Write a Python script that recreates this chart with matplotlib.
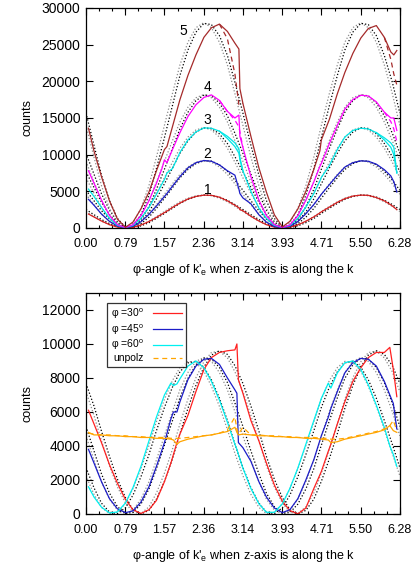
import numpy as np
import matplotlib
matplotlib.use("Agg")
import matplotlib.pyplot as plt
from matplotlib.ticker import FixedLocator, MultipleLocator

plt.rcParams['font.family'] = ['Liberation Sans', 'DejaVu Sans']
plt.rcParams['mathtext.fontset'] = 'custom'
plt.rcParams['mathtext.rm'] = 'Liberation Sans'
plt.rcParams['mathtext.it'] = 'Liberation Sans:italic'

# ---------------- data ----------------
tick_pos = [0.0, 0.785, 1.571, 2.356, 3.142, 3.927, 4.712, 5.498, 6.283]
tick_lab = ["0.00", "0.79", "1.57", "2.36", "3.14", "3.93", "4.71", "5.50", "6.28"]

# theory grid
PHI = [0.00, 0.16, 0.31, 0.47, 0.63, 0.79, 0.94, 1.10, 1.26, 1.41, 1.57, 1.73, 1.88, 2.04,
       2.20, 2.36, 2.51, 2.67, 2.83, 2.98, 3.14, 3.30, 3.46, 3.61, 3.77, 3.93, 4.08, 4.24,
       4.40, 4.56, 4.71, 4.87, 5.03, 5.18, 5.34, 5.50, 5.65, 5.81, 5.97, 6.13, 6.28]

# top panel: theory (gray dotted)
th1_g = [2250, 1555, 927, 430, 110, 0, 110, 430, 927, 1555, 2250, 2945, 3573, 4070, 4390, 4500, 4390, 4070, 3573, 2945,
         2250, 1555, 927, 430, 110, 0, 110, 430, 927, 1555, 2250, 2945, 3573, 4070, 4390, 4500, 4390, 4070, 3573, 2945, 2250]
th2_g = [4600, 3179, 1896, 879, 225, 0, 225, 879, 1896, 3179, 4600, 6021, 7304, 8321, 8975, 9200, 8975, 8321, 7304, 6021,
         4600, 3179, 1896, 879, 225, 0, 225, 879, 1896, 3179, 4600, 6021, 7304, 8321, 8975, 9200, 8975, 8321, 7304, 6021, 4600]
th3_g = [6850, 4733, 2824, 1308, 336, 0, 336, 1308, 2824, 4733, 6850, 8967, 10876, 12392, 13364, 13700, 13364, 12392, 10876, 8967,
         6850, 4733, 2824, 1308, 336, 0, 336, 1308, 2824, 4733, 6850, 8967, 10876, 12392, 13364, 13700, 13364, 12392, 10876, 8967, 6850]
th4_g = [9100, 6288, 3751, 1738, 446, 0, 446, 1738, 3751, 6288, 9100, 11912, 14449, 16462, 17754, 18200, 17754, 16462, 14449, 11912,
         9100, 6288, 3751, 1738, 446, 0, 446, 1738, 3751, 6288, 9100, 11912, 14449, 16462, 17754, 18200, 17754, 16462, 14449, 11912, 9100]
th5_g = [14000, 9674, 5771, 2674, 686, 0, 686, 2674, 5771, 9674, 14000, 18326, 22229, 25326, 27314, 28000, 27314, 25326, 22229, 18326,
         14000, 9674, 5771, 2674, 686, 0, 686, 2674, 5771, 9674, 14000, 18326, 22229, 25326, 27314, 28000, 27314, 25326, 22229, 18326, 14000]
# top panel: theory (black dotted)
th1_k = [2519, 1814, 1155, 601, 209, 16, 42, 285, 719, 1305, 1980, 2682, 3344, 3900, 4291, 4484, 4458, 4215, 3781, 3195,
         2520, 1814, 1155, 601, 209, 16, 42, 285, 719, 1305, 1980, 2682, 3344, 3900, 4291, 4484, 4458, 4215, 3781, 3195, 2520]
th2_k = [5149, 3709, 2361, 1228, 427, 33, 86, 582, 1469, 2669, 4049, 5482, 6836, 7974, 8773, 9167, 9114, 8618, 7731, 6531,
         5151, 3709, 2361, 1228, 427, 33, 86, 582, 1469, 2669, 4049, 5482, 6836, 7974, 8773, 9167, 9114, 8618, 7731, 6531, 5151]
th3_k = [7668, 5522, 3515, 1829, 636, 49, 129, 867, 2188, 3974, 6029, 8164, 10179, 11874, 13064, 13651, 13571, 12833, 11512, 9726,
         7671, 5522, 3515, 1829, 636, 49, 129, 867, 2188, 3974, 6029, 8164, 10179, 11874, 13064, 13651, 13571, 12833, 11512, 9726, 7671]
th4_k = [10187, 7336, 4670, 2430, 844, 66, 171, 1152, 2907, 5280, 8010, 10845, 13523, 15774, 17356, 18134, 18029, 17048, 15293, 12920,
         10190, 7336, 4670, 2430, 844, 66, 171, 1152, 2907, 5280, 8010, 10845, 13523, 15774, 17356, 18134, 18029, 17048, 15293, 12920, 10190]
th5_k = [15672, 11287, 7185, 3738, 1299, 101, 263, 1772, 4472, 8123, 12323, 16685, 20804, 24268, 26701, 27899, 27737, 26228, 23528, 19877,
         15677, 11287, 7185, 3738, 1299, 101, 263, 1772, 4472, 8123, 12323, 16685, 20804, 24268, 26701, 27899, 27737, 26228, 23528, 19877, 15677]

# top panel: measured
TOP_X = [0.05, 0.16, 0.31, 0.47, 0.63, 0.79, 0.94, 1.10, 1.26, 1.41, 1.52, 1.57, 1.62, 1.73, 1.88, 2.04,
         2.20, 2.36, 2.51, 2.67, 2.83, 2.98, 3.06, 3.08, 3.14, 3.30, 3.46, 3.61, 3.77, 3.93, 4.08, 4.24,
         4.40, 4.56, 4.68, 4.71, 4.87, 5.03, 5.18, 5.34, 5.50, 5.65, 5.81, 5.97, 6.10, 6.16, 6.22]
n1 = [1900, 1500, 950, 450, 120, 20, 100, 400, 880, 1450, 1900, 2100, 2300, 2800, 3400, 3950,
      4300, 4480, 4450, 4200, 3700, 3100, 2750, 2500, 2350, 1600, 950, 450, 120, 20, 110, 420,
      920, 1520, 2050, 2200, 2850, 3500, 4000, 4350, 4480, 4450, 4150, 3700, 3150, 2850, 2500]
n2 = [3900, 3100, 1900, 900, 250, 30, 230, 850, 1850, 3000, 3900, 4300, 4700, 5700, 7000, 8200,
      8900, 9200, 9100, 8600, 7800, 7200, 5300, 4700, 4100, 3300, 1800, 800, 200, 30, 230, 880,
      1950, 3200, 4300, 4600, 5900, 7200, 8300, 8900, 9150, 9100, 8700, 7950, 7100, 6300, 4900]
n3 = [5300, 4300, 2800, 1300, 350, 40, 350, 1300, 2800, 4600, 6000, 6600, 7500, 8100, 10300, 12000,
      13100, 13650, 13600, 13200, 12500, 11600, 10800, 9600, 7800, 5000, 2700, 1300, 350, 40, 330, 1300,
      2850, 4700, 6400, 6900, 8500, 10700, 12400, 13300, 13600, 13500, 13000, 12300, 11600, 11000, 7500]
n4 = [7800, 6100, 3800, 1700, 450, 50, 450, 1700, 3700, 6100, 8100, 9300, 8900, 10700, 13000, 15200,
      16800, 17800, 18150, 17400, 15900, 15000, 15400, 12500, 11000, 7000, 3800, 1700, 450, 50, 420, 1700,
      3800, 6300, 8400, 8800, 11500, 14000, 16200, 17500, 18100, 18000, 17200, 15800, 15000, 15000, 13300]
n5 = [13600, 10500, 7000, 3700, 1200, 100, 800, 2600, 4900, 7800, 9800, 10700, 11100, 13800, 17500, 20800,
      23600, 26000, 27300, 27800, 26800, 25200, 24400, 19000, 17000, 12500, 8200, 4900, 1800, 150, 900, 2600,
      5000, 8000, 10500, 12000, 14800, 18300, 21200, 23800, 25900, 27200, 27600, 26000, 24000, 23600, 24200]
# extra (dashed / second) traces near the edges
dash_xa = [2.67, 2.83, 2.98, 3.06, 3.14]
dash_xb = [5.97, 6.10, 6.16, 6.22]
n5_da = [27800, 25800, 21000, 16800, 17000]
n5_db = [26000, 23000, 21000, 19500]
n4_da = [17400, 15900, 14700, 13800, 11000]
n4_db = [15800, 14500, 13500, 11800]
n3_xa = [2.67, 2.83, 2.98, 3.06, 3.08, 3.14]
n3_ya = [13200, 12200, 11100, 10200, 9300, 7800]
n3_xb = [5.81, 5.97, 6.10, 6.16, 6.22]
n3_yb = [13000, 12000, 11000, 10000, 7500]

curve_labels = ["1", "2", "3", "4", "5"]
label_x = [2.43, 2.43, 2.43, 2.43, 1.95]
label_y = [5200, 10100, 14700, 19200, 26900]

# bottom panel: theory
r_g = [7200, 5798, 4298, 2847, 1588, 643, 105, 26, 415, 1233, 2400, 3802, 5302, 6753, 8012, 8957, 9495, 9574, 9185, 8367,
       7200, 5798, 4298, 2847, 1588, 643, 105, 26, 415, 1233, 2400, 3802, 5302, 6753, 8012, 8957, 9495, 9574, 9185, 8367, 7200]
r_k = [7681, 6353, 4874, 3387, 2039, 960, 258, 1, 213, 874, 1919, 3247, 4727, 6212, 7563, 8640, 9343, 9600, 9388, 8726,
       7681, 6353, 4874, 3387, 2039, 960, 258, 1, 213, 874, 1919, 3247, 4727, 6212, 7563, 8640, 9343, 9600, 9388, 8726, 7681]
b_g = th2_g
b_k = th2_k
c_g = [2250, 1156, 389, 24, 98, 603, 1489, 2669, 4029, 5436, 6750, 7844, 8611, 8976, 8902, 8397, 7511, 6331, 4971, 3564,
       2250, 1156, 389, 24, 98, 603, 1489, 2669, 4029, 5436, 6750, 7844, 8611, 8976, 8902, 8397, 7511, 6331, 4971, 3564, 2250]
c_k = [2733, 1541, 638, 113, 18, 362, 1110, 2191, 3497, 4903, 6268, 7459, 8362, 8887, 8982, 8638, 7890, 6810, 5500, 4100,
       2733, 1541, 638, 113, 18, 362, 1110, 2191, 3497, 4903, 6268, 7459, 8362, 8887, 8982, 8638, 7890, 6810, 5500, 4100, 2733]

# bottom panel: measured
BOT_X = [0.05, 0.16, 0.31, 0.47, 0.63, 0.79, 0.94, 1.10, 1.26, 1.41, 1.57, 1.70, 1.75, 1.82, 1.88, 2.04,
         2.20, 2.36, 2.51, 2.67, 2.83, 2.98, 3.02, 3.05, 3.14, 3.30, 3.46, 3.61, 3.77, 3.93, 4.08, 4.24,
         4.40, 4.56, 4.71, 4.85, 4.90, 5.03, 5.18, 5.34, 5.50, 5.65, 5.81, 5.97, 6.08, 6.15, 6.22]
p30 = [6100, 5300, 4200, 2900, 1800, 850, 250, 30, 250, 800, 1900, 3000, 3500, 4200, 4700, 5800,
       7200, 8500, 9200, 9500, 9600, 9650, 10000, 7900, 7100, 5500, 4300, 3000, 1700, 750, 200, 10,
       350, 1500, 2500, 3700, 4100, 5300, 6600, 7800, 8600, 9200, 9500, 9500, 9800, 8500, 6900]
p45 = [3800, 3000, 1900, 900, 300, 80, 180, 700, 1600, 2800, 4200, 5600, 6000, 6000, 6600, 7900,
       8700, 9100, 9150, 8800, 8000, 7300, 7100, 4200, 3900, 3100, 1900, 1000, 350, 80, 250, 900,
       2000, 3200, 4600, 5700, 6200, 7200, 8300, 8900, 9150, 9100, 8700, 7800, 7000, 6500, 5000]
p60 = [1600, 1000, 400, 60, 120, 650, 1550, 2800, 4300, 5700, 7000, 7700, 7550, 7650, 7950, 8700,
       9000, 8600, 7800, 6700, 5400, 4100, 3800, 3500, 2700, 1500, 600, 100, 100, 600, 1500, 2700,
       4100, 5500, 6800, 7700, 7400, 8300, 8900, 9000, 8500, 7600, 6400, 5100, 4000, 3500, 2800]
unpolz = [4800, 4650, 4650, 4600, 4600, 4550, 4550, 4500, 4500, 4450, 4450, 4400, 4350, 4100, 4250, 4400,
          4500, 4600, 4650, 4750, 4850, 5100, 4800, 4650, 4700, 4650, 4600, 4600, 4550, 4550, 4500, 4500,
          4450, 4450, 4400, 4350, 4200, 4250, 4400, 4500, 4600, 4700, 4800, 4950, 5200, 4900, 4800]
unpolz_d = [4750, 4700, 4650, 4650, 4600, 4600, 4550, 4550, 4500, 4500, 4500, 4450, 4450, 4450, 4450, 4500,
            4550, 4600, 4650, 4750, 4950, 5700, 5000, 4700, 5100, 4650, 4650, 4600, 4600, 4550, 4550, 4500,
            4500, 4500, 4450, 4450, 4400, 4400, 4450, 4550, 4650, 4750, 4850, 5000, 5200, 5500, 4900]

# ---------------- plotting ----------------
fig = plt.figure(figsize=(4.12, 5.65), dpi=100)
ax1 = fig.add_axes([0.2087, 0.5965, 0.7621, 0.3894])
ax2 = fig.add_axes([0.2087, 0.0903, 0.7621, 0.3912])

dot = (0, (1, 1.6))
gray = '#8c8c8c'
lw = 0.9

# top
top_cols = ['#d81e1e', '#1c1cc8', '#00e6e6', '#ff00ff', '#a52a2a']
for g, k in zip([th1_g, th2_g, th3_g, th4_g, th5_g], [th1_k, th2_k, th3_k, th4_k, th5_k]):
    ax1.plot(PHI, g, color=gray, ls=dot, lw=0.9)
    ax1.plot(PHI, k, color='black', ls=dot, lw=0.9)
for n, c in zip([n1, n2, n3, n4, n5], top_cols):
    ax1.plot(TOP_X, n, color=c, lw=lw)
ax1.plot(n3_xa, n3_ya, color=top_cols[2], lw=lw)
ax1.plot(n3_xb, n3_yb, color=top_cols[2], lw=lw)
ax1.plot(dash_xa, n4_da, color=top_cols[3], lw=lw, ls=(0, (4, 3)))
ax1.plot(dash_xb, n4_db, color=top_cols[3], lw=lw, ls=(0, (4, 3)))
ax1.plot(dash_xa, n5_da, color=top_cols[4], lw=lw, ls=(0, (4, 3)))
ax1.plot(dash_xb, n5_db, color=top_cols[4], lw=lw, ls=(0, (4, 3)))
for t, x, y in zip(curve_labels, label_x, label_y):
    ax1.text(x, y, t, fontsize=10, ha='center', va='center')
ax1.set_ylim(0, 30000)
ax1.yaxis.set_major_locator(MultipleLocator(5000))

# bottom
ax2.plot(PHI, r_g, color=gray, ls=dot, lw=0.9)
ax2.plot(PHI, r_k, color='black', ls=dot, lw=0.9)
ax2.plot(PHI, b_g, color=gray, ls=dot, lw=0.9)
ax2.plot(PHI, b_k, color='black', ls=dot, lw=0.9)
ax2.plot(PHI, c_g, color=gray, ls=dot, lw=0.9)
ax2.plot(PHI, c_k, color='black', ls=dot, lw=0.9)
ax2.plot(BOT_X, p30, color='#ff2020', lw=lw, label=r"φ =30$^{\rm o}$")
ax2.plot(BOT_X, p45, color='#1c1cc8', lw=lw, label=r"φ =45$^{\rm o}$")
ax2.plot(BOT_X, p60, color='#00f0f0', lw=lw, label=r"φ =60$^{\rm o}$")
ax2.plot(BOT_X, unpolz_d, color='#ffa500', lw=lw, ls=(0, (4, 3)), label="unpolz")
ax2.plot(BOT_X, unpolz, color='#ffa500', lw=lw)
ax2.set_ylim(0, 13000)
ax2.yaxis.set_major_locator(MultipleLocator(2000))
leg = ax2.legend(loc='upper left', bbox_to_anchor=(0.067, 0.955), fontsize=7.5, markerfirst=False,
                 frameon=True, fancybox=False, handlelength=2.8, borderpad=0.35, labelspacing=0.12,
                 handletextpad=0.9, borderaxespad=0)
leg.get_frame().set_edgecolor('black')
leg.get_frame().set_linewidth(0.9)
for t in leg.get_texts():
    t.set_ha('right')

for ax in (ax1, ax2):
    ax.set_xlim(0, 6.2832)
    ax.xaxis.set_major_locator(FixedLocator(tick_pos))
    ax.set_xticklabels(tick_lab)
    ax.xaxis.set_minor_locator(MultipleLocator(np.pi / 12))
    ax.tick_params(which='both', direction='in', top=True, right=True, width=0.8)
    ax.tick_params(which='major', length=5)
    ax.tick_params(which='minor', length=2.5)
    ax.tick_params(axis='y', labelsize=10, pad=4)
    ax.tick_params(axis='x', labelsize=9, pad=7)
    for s in ax.spines.values():
        s.set_linewidth(0.9)
    ax.set_ylabel("counts", fontsize=9, labelpad=6)
    ax.set_xlabel(r"φ-angle of k'$_{\rm e}$ when z-axis is along the k", fontsize=9, labelpad=9)

fig.savefig("out.png", dpi=100)
